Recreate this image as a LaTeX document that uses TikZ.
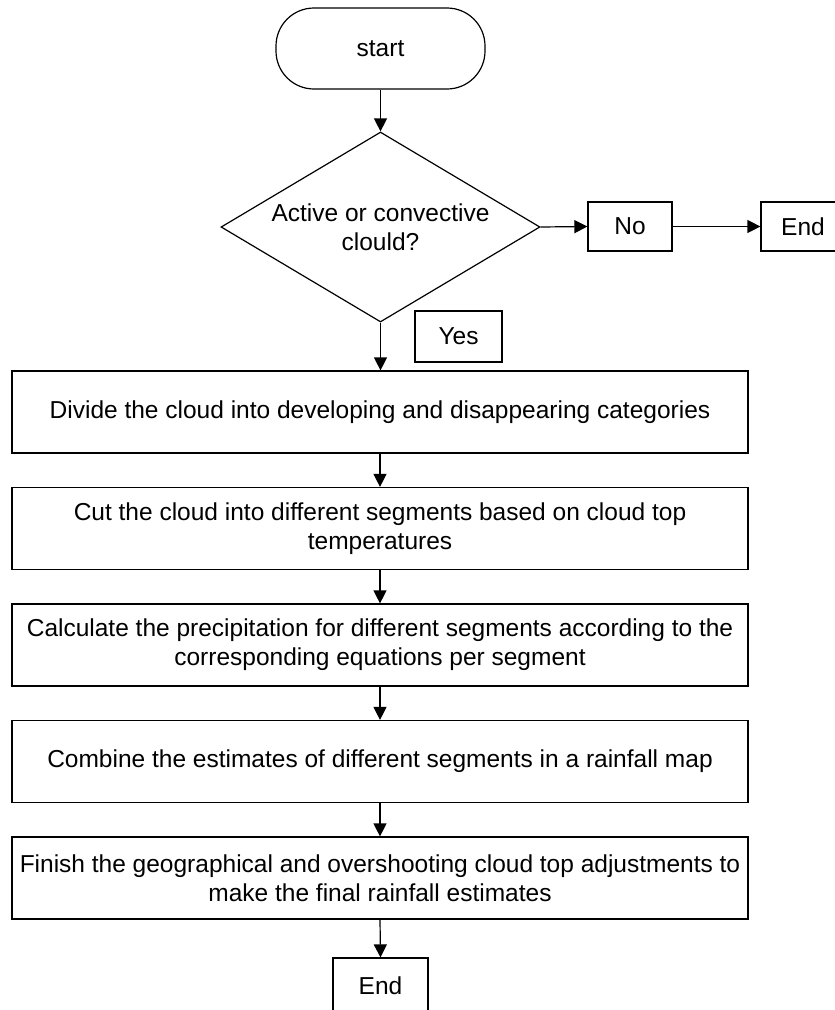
\documentclass[tikz,border=0pt]{standalone}
\usepackage{fontspec}
\setmainfont{Liberation Sans}
\usetikzlibrary{arrows.meta,shapes.geometric}
\begin{document}
\begin{tikzpicture}[x=1pt,y=-1pt,
  every node/.style={font=\fontsize{24.5}{29}\selectfont, text=black},
  box/.style={draw=black, line width=1.2pt, rectangle, inner sep=0pt, align=center},
  arr/.style={draw=black, line width=1.2pt, -{Triangle[length=13pt,width=13pt]}}]
\useasboundingbox (0,0) rectangle (835,1010);
\clip (0,0) rectangle (835,1010);
\node[box, rounded corners=38pt, minimum width=209pt, minimum height=81pt] (start) at (380.5,48.5) {start};
\node[diamond, draw=black, line width=1.2pt, inner sep=0pt, minimum width=319pt, minimum height=190pt] (dec) at (380.5,227) {};
\node[align=center, inner sep=0pt] (dectext) at (dec.center) {Active or convective\\clould?};
\node[box, minimum width=84pt, minimum height=49pt] (no) at (630,226.5) {No};
\node[box, minimum width=84pt, minimum height=49pt] (endr) at (803,226.5) {End};
\node[box, minimum width=87pt, minimum height=51pt] (yes) at (458.5,336.5) {Yes};
\node[box, minimum width=736pt, minimum height=82pt] (b1) at (380,412) {Divide the cloud into developing and disappearing categories};
\node[box, minimum width=736pt, minimum height=82pt] (b2) at (380,528.5) {Cut the cloud into different segments based on cloud top\\temperatures};
\node[box, minimum width=736pt, minimum height=82pt] (b3) at (380,645) {Calculate the precipitation for different segments according to the\\corresponding equations per segment};
\node[box, minimum width=736pt, minimum height=82pt] (b4) at (380,761.5) {Combine the estimates of different segments in a rainfall map};
\node[box, minimum width=736pt, minimum height=82pt] (b5) at (380,878) {Finish the geographical and overshooting cloud top adjustments to\\make the final rainfall estimates};
\node[box, minimum width=95pt, minimum height=56pt] (endb) at (380.5,986) {End};
\draw[arr] (start.south) -- (dec.north);
\draw[arr] (dec.east) -- (no.west);
\draw[arr] (no.east) -- (endr.west);
\draw[arr] (dec.south) -- (dec.south |- b1.north);
\draw[arr] (b1.south) -- (b2.north);
\draw[arr] (b2.south) -- (b3.north);
\draw[arr] (b3.south) -- (b4.north);
\draw[arr] (b4.south) -- (b5.north);
\draw[arr] (b5.south) -- (endb.north);
\end{tikzpicture}
\end{document}
